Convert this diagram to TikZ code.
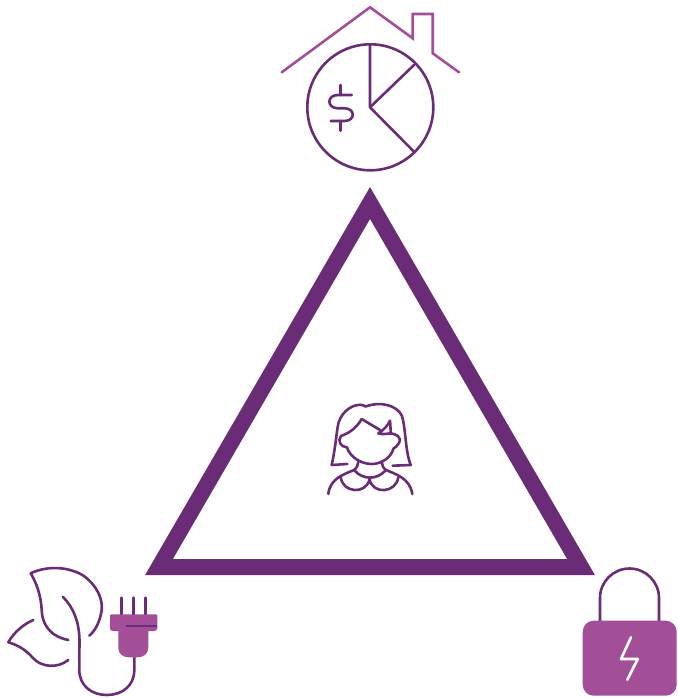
\documentclass[tikz,border=0pt]{standalone}
\definecolor{darkplum}{HTML}{6A2C77}
\definecolor{lightplum}{HTML}{A34F98}
\tikzset{
  frame/.style={draw=darkplum, line width=16pt, miter limit=10, line join=miter},
  thinline/.style={draw=darkplum, line width=2.6pt, line cap=round, line join=round},
  roofline/.style={draw=lightplum, line width=2.6pt, line cap=round, line join=miter},
  solidpart/.style={fill=lightplum, draw=none}
}
\begin{document}
\begin{tikzpicture}[x=1pt, y=-1pt]
  \useasboundingbox (0,0) rectangle (677,698);
  % triangle
  \draw[frame] (370,203) -- (159,567) -- (581,567) -- cycle;
  % house and chart
  \draw[roofline] (281.7,72.3) -- (370,7.3) -- (412.7,38.3) -- (412.7,14) -- (432.7,14) -- (432.7,53.3) -- (459,72.3);
  \draw[thinline] (370.3,107.3) circle (63);
  \draw[thinline] (370,44.3) -- (370,107.3) -- (414,151.7);
  \draw[thinline] (370,107.3) -- (414,65);
  \draw[thinline] (340.7,85) -- (340.7,95);
  \draw[thinline] (340.7,121) -- (340.7,130.7);
  \draw[thinline] (351.7,95) -- (338,95) .. controls (326.5,95) and (326.5,108.3) .. (338,108.3)
    -- (344.5,108.3) .. controls (355.5,108.3) and (355.5,121) .. (344.5,121) -- (330.7,121);
  % woman
  \draw[thinline] (347.3,464) -- (331.7,465) .. controls (335,450) and (336,438) .. (337.5,428)
    .. controls (339,414) and (350,405) .. (360,404.8) .. controls (362,404.8) and (364,405.5) .. (365.5,406.5)
    .. controls (380,401) and (397,405) .. (402,416) .. controls (406,430) and (405,450) .. (410.7,465) -- (392.7,465.7);
  \draw[thinline] (361.7,419) -- (380,430);
  \draw[thinline] (378.3,433.3) .. controls (384,430) and (388,425) .. (390,420.7) .. controls (390.5,425) and (390.5,430) .. (390.8,433.3)
    .. controls (386,434) and (381,434.5) .. (378.3,433.3);
  \draw[thinline] (390.8,433.3) .. controls (396,434) and (402,437) .. (399,443) .. controls (397.5,446) and (395,447.5) .. (393.5,448.5)
    .. controls (391,458) and (381,464) .. (371.7,464) .. controls (361,464) and (350,457) .. (347,447.5)
    .. controls (341,447) and (337,441) .. (341,436) .. controls (350,433) and (357,427) .. (361.7,419);
  \draw[thinline] (358.3,461.7) .. controls (358,465) and (357,468) .. (354,470) .. controls (345,474) and (330,478) .. (328.3,494);
  \draw[thinline] (381.7,461.7) .. controls (382,465) and (383,468) .. (386,470) .. controls (395,474) and (410,478) .. (412.3,494);
  \draw[thinline] (354.5,470.5) .. controls (363,480) and (377,480) .. (385.5,470.5);
  \draw[thinline] (340.7,476.7) .. controls (342,493) and (366,495) .. (369.5,479.3)
    .. controls (373,495) and (396,493) .. (398.3,477.3);
  % leaves and plug
  \draw[thinline] (68.3,640) .. controls (48,636) and (42,622) .. (41.7,610) .. controls (41,595) and (36,582) .. (30.7,573.3)
    .. controls (48,565) and (70,567) .. (84,576) .. controls (96,585) and (103,598) .. (101.7,610)
    .. controls (100,622) and (95,631) .. (89.3,635.7);
  \draw[thinline] (33.3,620) .. controls (24,624) and (14,632) .. (8.3,642.3) .. controls (18,645) and (26,650) .. (33,658)
    .. controls (41,667) and (57,669) .. (68.3,660);
  \draw[thinline] (62.7,596.7) .. controls (74,608) and (79,622) .. (79.5,640) -- (79.3,670)
    .. controls (79.3,686) and (92,695) .. (106.7,695) .. controls (122,695) and (134.3,686) .. (134.3,670) -- (134.3,655);
  \foreach \prongx in {121.7,133.3,145.7} {
    \draw[thinline] (\prongx,597.7) -- (\prongx,615);
  }
  \fill[solidpart] (111,614.3) -- (156.3,614.3) .. controls (157,614.3) and (157.3,614.7) .. (157.3,615.3) -- (157.3,628)
    .. controls (157.3,630) and (156,631) .. (154,631) -- (148.3,631) -- (148.3,648)
    .. controls (148.3,654) and (143,657.3) .. (138,657.3) -- (128.5,657.3) .. controls (123.5,657.3) and (118.3,654) .. (118.3,648)
    -- (118.3,631) -- (113,631) .. controls (111,631) and (110,630) .. (110,628) -- (110,615.3) .. controls (110,614.7) and (110.4,614.3) .. (111,614.3) -- cycle;
  \draw[darkplum, line width=2.6pt] (126,626) -- (156.7,626);
  % lock
  \draw[thinline, line cap=butt] (600,622) -- (600,598) arc[start angle=180, end angle=360, radius=29.5] -- (659,622);
  \fill[solidpart, rounded corners=11pt] (582.7,620.7) rectangle (676.7,695.7);
  \draw[white, line width=2.6pt, line cap=round, line join=round] (631,637.3) -- (621,659) -- (637.7,659) -- (627.3,679.7);
\end{tikzpicture}
\end{document}
